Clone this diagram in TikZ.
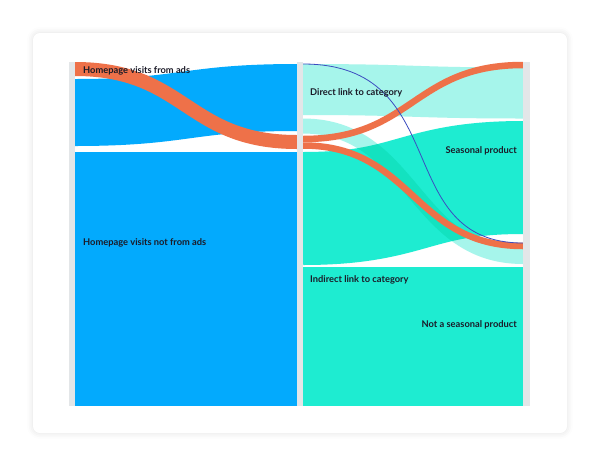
\documentclass[tikz,border=0pt]{standalone}
\usepackage{fontspec}
\setmainfont{Lato}
\usepackage{tikz}
\usetikzlibrary{shadows.blur}

\definecolor{adsblue}{RGB}{3,170,253}
\definecolor{catteal}{RGB}{30,236,209}
\definecolor{catlight}{RGB}{166,245,235}
\definecolor{pathorange}{RGB}{238,113,73}
\definecolor{bargray}{RGB}{227,230,232}
\definecolor{pathline}{RGB}{59,76,192}
\definecolor{labelink}{RGB}{27,27,40}

\begin{document}
\begin{tikzpicture}[x=1pt,y=-1pt,
  card/.style={fill=white,rounded corners=7pt,blur shadow={shadow blur radius=6pt,shadow xshift=0pt,shadow yshift=0pt,shadow opacity=12}},
  bar node/.style={fill=bargray,draw=none,inner sep=0pt,minimum width=6pt,minimum height=344pt},
  label node/.style={inner sep=0pt,text=labelink,font=\fontsize{9.3}{11}\selectfont\bfseries},
  flow/.style={line width=#1},
  link/.style={line cap=butt}]

  \useasboundingbox (0,0) rectangle (600,467);
  \path[card] (33,33) rectangle (567,433);

  % flow ends
  \coordinate (a1) at (75,112.5);  \coordinate (a2) at (297,97.5);
  \coordinate (b1) at (75,279);    \coordinate (b2) at (297,279);
  \coordinate (o1) at (75,69);     \coordinate (o2) at (297,142);
  \coordinate (ds1) at (303,89.5); \coordinate (ds2) at (523,93);
  \coordinate (is1) at (303,208.5);\coordinate (is2) at (523,177.5);
  \coordinate (in1) at (303,336.5);\coordinate (in2) at (523,336.5);
  \coordinate (dn1) at (303,126);  \coordinate (dn2) at (523,256.5);
  \coordinate (ou1) at (303,139);  \coordinate (ou2) at (523,65);
  \coordinate (od1) at (303,145.5);\coordinate (od2) at (523,246);
  \coordinate (l1) at (303,64);    \coordinate (l2) at (523,243);

  \draw[link,adsblue,flow=67] (a1) .. controls +(111,0) and +(-111,0) .. (a2);
  \draw[link,adsblue,flow=254] (b1) -- (b2);
  \draw[link,catlight,flow=51] (ds1) .. controls +(110,0) and +(-110,0) .. (ds2);
  \draw[link,catteal,flow=113] (is1) .. controls +(110,0) and +(-110,0) .. (is2);
  \draw[link,catteal,flow=139] (in1) -- (in2);
  \begin{scope}[blend mode=multiply]
    \draw[link,catlight,flow=15] (dn1) .. controls +(110,0) and +(-110,0) .. (dn2);
  \end{scope}
  \draw[link,pathorange,flow=14] (o1) .. controls +(111,0) and +(-111,0) .. (o2);
  \draw[link,pathorange,flow=6.5] (ou1) .. controls +(110,0) and +(-110,0) .. (ou2);
  \draw[link,pathorange,flow=6.5] (od1) .. controls +(110,0) and +(-110,0) .. (od2);
  \draw[pathline,line width=0.8pt] (l1) .. controls (455,64) and (390,243) .. (l2);

  \node[bar node] (col1) at (72,234) {};
  \node[bar node] (col2) at (300,234) {};
  \node[bar node,minimum width=7pt] (col3) at (526.5,234) {};

  \node[label node,anchor=west] (ads) at (83,70.5) {Homepage visits from ads};
  \node[label node,anchor=west] (notads) at (83,243) {Homepage visits not from ads};
  \node[label node,anchor=west] (direct) at (310,92.5) {Direct link to category};
  \node[label node,anchor=west] (indirect) at (310,279.5) {Indirect link to category};
  \node[label node,anchor=east] (seasonal) at (517,150.5) {Seasonal product};
  \node[label node,anchor=east] (notseasonal) at (517,325) {Not a seasonal product};
\end{tikzpicture}
\end{document}
